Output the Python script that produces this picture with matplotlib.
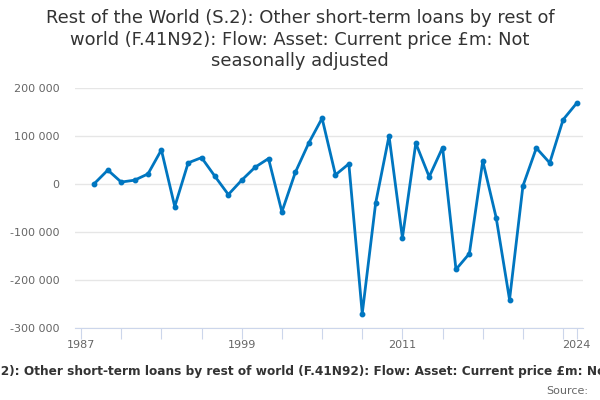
import matplotlib.pyplot as plt
from matplotlib.ticker import FuncFormatter

# annual values, £m
years = list(range(1988, 2025))
values = [1000, 29000, 4000, 8000, 21000, 71000, -47000, 44000, 55000, 16000,
          -22000, 8000, 35000, 53000, -58000, 24000, 85000, 137000, 19000, 42000,
          -270000, -40000, 100000, -112000, 85000, 15000, 76000, -178000, -145000, 48000,
          -70000, -241000, -4000, 75000, 44000, 134000, 168000]

tick_years = list(range(1987, 2024, 3)) + [2024]
label_years = [1987, 1999, 2011, 2024]
y_ticks = [-300000, -200000, -100000, 0, 100000, 200000]

title = ('Rest of the World (S.2): Other short-term loans by rest of\n'
         'world (F.41N92): Flow: Asset: Current price £m: Not\n'
         'seasonally adjusted')
series_name = ('Rest of the World (S.2): Other short-term loans by rest of world '
               '(F.41N92): Flow: Asset: Current price £m: Not seasonally adjusted')

fig = plt.figure(figsize=(6, 4), dpi=100)
ax = fig.add_axes([0.125, 0.18, 0.847, 0.60])

ax.plot(years, values, color='#0076c0', linewidth=2, marker='o', markersize=3.2, zorder=3)

ax.set_xlim(1986.55, 2024.5)
ax.set_ylim(-300000, 200000)
ax.set_yticks(y_ticks)
ax.yaxis.set_major_formatter(FuncFormatter(lambda v, p: '{:,.0f}'.format(v).replace(',', ' ')))
ax.set_xticks(tick_years)
ax.set_xticklabels([str(y) if y in label_years else '' for y in tick_years])

ax.grid(axis='y', color='#e6e6e6', linewidth=1)
ax.set_axisbelow(True)
for s in ['top', 'right', 'left']:
    ax.spines[s].set_visible(False)
ax.spines['bottom'].set_color('#ccd6eb')
ax.tick_params(axis='y', length=0, labelsize=8, labelcolor='#666666', pad=11)
ax.tick_params(axis='x', length=8, color='#ccd6eb', labelsize=8, labelcolor='#666666', pad=0.5)

fig.text(0.5, 0.977, title, ha='center', va='top', fontsize=12.9, color='#333333', linespacing=1.24)

# legend text overflows the figure on both sides, like the original
leg_size = 8.7
r = fig.canvas.get_renderer()
tmp = fig.text(0, 0, 'Rest of the World (S.', fontsize=leg_size, fontweight='bold')
pre_w = tmp.get_window_extent(renderer=r).width
tmp.remove()
fig.text(-pre_w / 600 + 0.002, 0.072, series_name, ha='left', va='center', fontsize=leg_size,
         fontweight='bold', color='#333333')
fig.text(0.98, 0.022, 'Source:', ha='right', va='center', fontsize=8, color='#666666')

fig.savefig('out.png')
